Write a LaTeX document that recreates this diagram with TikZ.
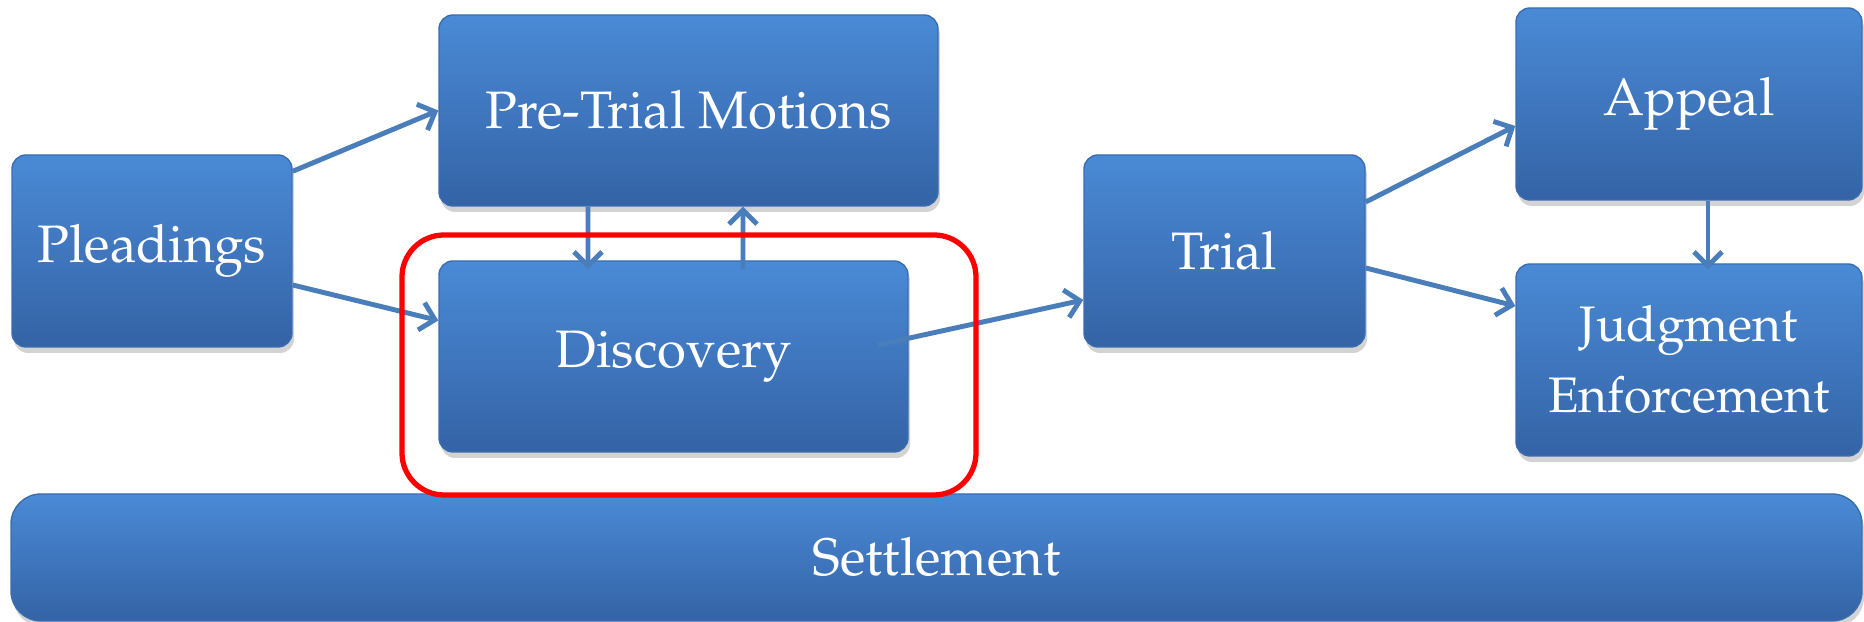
\documentclass[tikz,border=0pt]{standalone}
\usepackage[T1]{fontenc}
\usepackage{mathpazo}
\usetikzlibrary{arrows.meta,shadows}
\definecolor{boxtop}{HTML}{4A8AD6}
\definecolor{boxbottom}{HTML}{3463A6}
\definecolor{boxline}{HTML}{3A6DB0}
\definecolor{flowblue}{HTML}{4A7EBB}
\tikzset{
	stage/.style={rounded corners=0.14cm, top color=boxtop, bottom color=boxbottom, draw=boxline, line width=0.4pt,
		text=white, align=center, inner sep=0pt, font=\fontsize{15}{20.2}\selectfont,
		drop shadow={opacity=0.35, shadow xshift=0.02cm, shadow yshift=-0.06cm}},
	flow/.style={draw=flowblue, line width=1.4pt, -{Straight Barb[length=0.14cm,width=0.28cm]}},
}

\begin{document}
\begin{tikzpicture}
		%%%%% START %%%%%
		\useasboundingbox (0, 0) rectangle (18.64, 6.22);
		
		\node[stage, minimum width=2.80cm, minimum height=1.92cm] (plead) at (1.52, 3.71) {Pleadings};
		\node[stage, minimum width=4.99cm, minimum height=1.91cm] (motions) at (6.885, 5.115) {Pre-Trial Motions};
		\node[stage, minimum width=4.69cm, minimum height=1.91cm] (disc) at (6.735, 2.655) {Discovery};
		\node[stage, minimum width=2.81cm, minimum height=1.92cm] (trial) at (12.245, 3.71) {Trial};
		\node[stage, minimum width=3.46cm, minimum height=1.92cm] (appeal) at (16.89, 5.18) {Appeal};
		\node[stage, minimum width=3.46cm, minimum height=1.92cm, font=\fontsize{14.2}{20.2}\selectfont] (judg) at (16.89, 2.62) {Judgment\\Enforcement};
		
		\node[stage, rounded corners=0.3cm, minimum width=18.51cm, minimum height=1.27cm] (settle) at (9.365, 0.645) {Settlement};
		
		\draw[flow] ([yshift=-0.17cm]plead.north east) -- (motions.west);
		\draw[flow] ([yshift=-0.34cm]plead.east) -- ([yshift=0.36cm]disc.west);
		\draw[flow] ([xshift=-1.005cm]motions.south) -- ([xshift=-0.855cm, yshift=-0.09cm]disc.north);
		\draw[flow] ([xshift=0.695cm, yshift=-0.09cm]disc.north) -- ([xshift=0.545cm]motions.south);
		\draw[flow] ([xshift=-0.31cm, yshift=0.115cm]disc.east) -- ([yshift=-0.49cm]trial.west);
		\draw[flow] ([yshift=0.49cm]trial.east) -- ([yshift=-0.22cm]appeal.west);
		\draw[flow] ([yshift=-0.17cm]trial.east) -- ([yshift=0.54cm]judg.west);
		\draw[flow] ([xshift=0.19cm]appeal.south) -- ([xshift=0.19cm, yshift=-0.06cm]judg.north);
		
		\draw[red, line width=1.5pt, rounded corners=0.42cm] (4.02, 1.27) rectangle (9.76, 3.87);
		%%%%% END %%%%%
	\end{tikzpicture}
\end{document}
